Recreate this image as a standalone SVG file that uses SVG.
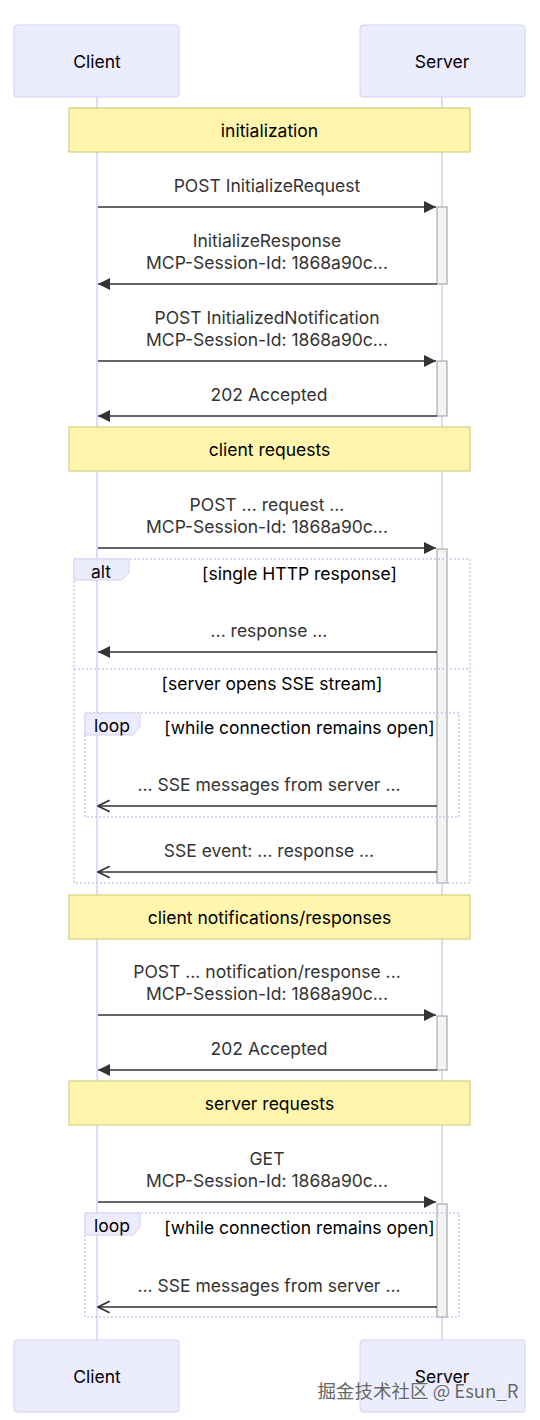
<svg xmlns="http://www.w3.org/2000/svg" width="540" height="1420" viewBox="0 0 540 1420">
<style>
text{font-family:Inter,"Noto Sans","Liberation Sans",sans-serif;font-size:17.5px;text-anchor:middle;dominant-baseline:central}
.actor rect{fill:#ECECFF;stroke:#d4d0f3;stroke-width:1}
.actor text{fill:#000}
.life{stroke:#d4d0f3;stroke-width:1.5}
.note rect{fill:#fff5ad;stroke:#c8c86a;stroke-width:1}
.note text{fill:#000}
.msg{stroke:#333;stroke-width:1.5;fill:none}
.mt{fill:#333}
.act{fill:#f4f4f4;stroke:#999;stroke-width:1}
.frame{fill:none;stroke:#c9c6ec;stroke-width:1.5;stroke-dasharray:2,2}
.tag{fill:#ECECFF;stroke:#d4d0f3;stroke-width:1}
.ft{fill:#000}
.wm{fill:#666;font-family:"Noto Sans CJK SC","Noto Sans",sans-serif;font-size:18.5px;stroke:#fff;stroke-width:0.6;paint-order:stroke}
</style>
<defs>
<marker id="tri" viewBox="0 0 10 10" refX="10" refY="5" markerWidth="12" markerHeight="12" markerUnits="userSpaceOnUse" orient="auto-start-reverse">
<path d="M0,0 L10,5 L0,10 z" fill="#333"/>
</marker>
<marker id="open" viewBox="0 0 12 12" refX="11" refY="6" markerWidth="14" markerHeight="14" markerUnits="userSpaceOnUse" orient="auto">
<path d="M1,1 L11,6 L1,11" fill="none" stroke="#333" stroke-width="1.5"/>
</marker>
</defs>
<g id="lifelines">
<line class="life" x1="97" y1="97" x2="97" y2="1340"/>
<line class="life" x1="442" y1="97" x2="442" y2="1340"/>
</g>
<g id="client-top" class="actor"><rect x="14" y="25" width="165" height="72" rx="3"/><text x="97" y="61">Client</text></g>
<g id="server-top" class="actor"><rect x="360" y="25" width="165" height="72" rx="3"/><text x="442" y="61">Server</text></g>
<g id="client-bottom" class="actor"><rect x="14" y="1340" width="165" height="72" rx="3"/><text x="97" y="1376">Client</text></g>
<g id="server-bottom" class="actor"><rect x="360" y="1340" width="165" height="72" rx="3"/><text x="442" y="1376">Server</text></g>

<g id="note-init" class="note"><rect x="69" y="108" width="401" height="44"/><text x="269.5" y="130">initialization</text></g>
<g id="note-client-req" class="note"><rect x="69" y="427" width="401" height="44"/><text x="269.5" y="449">client requests</text></g>
<g id="note-client-notif" class="note"><rect x="69" y="895" width="401" height="44"/><text x="269.5" y="917">client notifications/responses</text></g>
<g id="note-server-req" class="note"><rect x="69" y="1081" width="401" height="44"/><text x="269.5" y="1103">server requests</text></g>

<g id="activations">
<rect class="act" x="437" y="207" width="10" height="77"/>
<rect class="act" x="437" y="361" width="10" height="55"/>
<rect class="act" x="437" y="549" width="10" height="334"/>
<rect class="act" x="437" y="1016" width="10" height="54"/>
<rect class="act" x="437" y="1204" width="10" height="113"/>
</g>

<g id="alt-frame">
<rect class="frame" x="74" y="559" width="396" height="324"/>
<line class="frame" x1="74" y1="669" x2="470" y2="669"/>
<polygon class="tag" points="74,559 129,559 129,573 122,580 74,580"/>
<text class="ft" x="101" y="571">alt</text>
<text class="ft" x="299.5" y="573">[single HTTP response]</text>
<text class="ft" x="272" y="683">[server opens SSE stream]</text>
</g>
<g id="loop-frame-1">
<rect class="frame" x="85" y="713" width="374" height="104"/>
<polygon class="tag" points="85,713 140,713 140,727 133,735 85,735"/>
<text class="ft" x="112" y="725">loop</text>
<text class="ft" x="299.5" y="727">[while connection remains open]</text>
</g>
<g id="loop-frame-2">
<rect class="frame" x="85" y="1213" width="374" height="104"/>
<polygon class="tag" points="85,1213 140,1213 140,1227 133,1235 85,1235"/>
<text class="ft" x="112" y="1225">loop</text>
<text class="ft" x="299.5" y="1227">[while connection remains open]</text>
</g>

<g id="connectors">
<line class="msg" x1="98" y1="207" x2="436" y2="207" marker-end="url(#tri)"/>
<text class="mt" x="267" y="185">POST InitializeRequest</text>

<line class="msg" x1="437" y1="284" x2="98" y2="284" marker-end="url(#tri)"/>
<text class="mt" x="267" y="240">InitializeResponse</text>
<text class="mt" x="267" y="262">MCP-Session-Id: 1868a90c...</text>

<line class="msg" x1="98" y1="361" x2="436" y2="361" marker-end="url(#tri)"/>
<text class="mt" x="267" y="317">POST InitializedNotification</text>
<text class="mt" x="267" y="339">MCP-Session-Id: 1868a90c...</text>

<line class="msg" x1="437" y1="416" x2="98" y2="416" marker-end="url(#tri)"/>
<text class="mt" x="269" y="394">202 Accepted</text>

<line class="msg" x1="98" y1="548" x2="436" y2="548" marker-end="url(#tri)"/>
<text class="mt" x="267" y="504">POST ... request ...</text>
<text class="mt" x="267" y="526">MCP-Session-Id: 1868a90c...</text>

<line class="msg" x1="437" y1="652" x2="98" y2="652" marker-end="url(#tri)"/>
<text class="mt" x="269" y="630">... response ...</text>

<line class="msg" x1="437" y1="806" x2="98" y2="806" marker-end="url(#open)"/>
<text class="mt" x="269" y="784">... SSE messages from server ...</text>

<line class="msg" x1="437" y1="872" x2="98" y2="872" marker-end="url(#open)"/>
<text class="mt" x="269" y="850">SSE event: ... response ...</text>

<line class="msg" x1="98" y1="1015" x2="436" y2="1015" marker-end="url(#tri)"/>
<text class="mt" x="267" y="971">POST ... notification/response ...</text>
<text class="mt" x="267" y="993">MCP-Session-Id: 1868a90c...</text>

<line class="msg" x1="437" y1="1070" x2="98" y2="1070" marker-end="url(#tri)"/>
<text class="mt" x="269" y="1048">202 Accepted</text>

<line class="msg" x1="98" y1="1202" x2="436" y2="1202" marker-end="url(#tri)"/>
<text class="mt" x="267" y="1158">GET</text>
<text class="mt" x="267" y="1180">MCP-Session-Id: 1868a90c...</text>

<line class="msg" x1="437" y1="1307" x2="98" y2="1307" marker-end="url(#open)"/>
<text class="mt" x="269" y="1285">... SSE messages from server ...</text>
</g>
<text class="wm" x="418" y="1390">掘金技术社区 @ Esun_R</text>
</svg>
